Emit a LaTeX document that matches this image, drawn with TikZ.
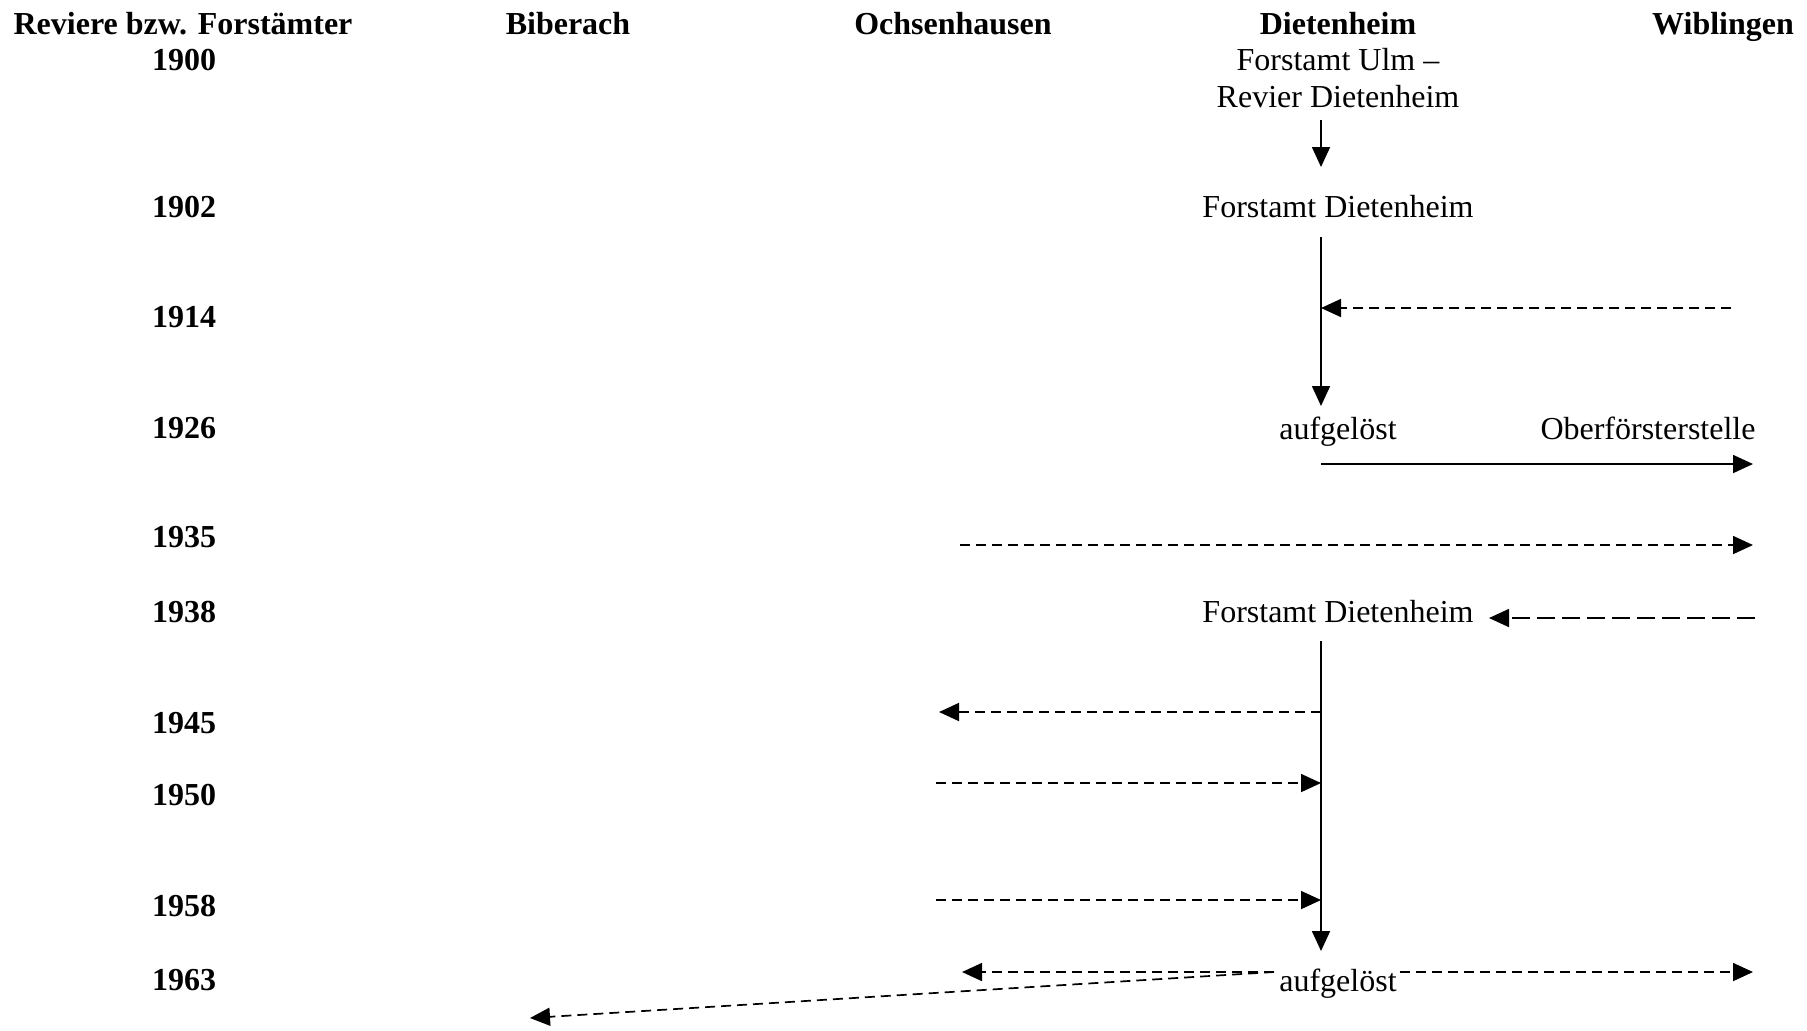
\documentclass[tikz,border=0pt]{standalone}
\usepackage{fontspec}
\setmainfont{Liberation Serif}
\usetikzlibrary{arrows.meta}
\begin{document}
\begin{tikzpicture}[x=0.5pt,y=-0.5pt,
  every node/.style={font=\fontsize{16}{19}\selectfont, inner sep=0pt},
  hdr/.style={font=\fontsize{16}{19}\selectfont\bfseries, anchor=base},
  yr/.style={font=\fontsize{16}{19}\selectfont\bfseries},
  solidarr/.style={line width=0.85pt,-{Triangle[length=10pt,width=9pt]}},
  dasharr/.style={solidarr, dash pattern=on 5pt off 3pt},
  longdash/.style={solidarr, dash pattern=on 9pt off 3.5pt}]
\useasboundingbox (0,0) rectangle (1807,1030);
% headers
\node[hdr] (h0) at (183,34) {Reviere bzw. Forstämter};
\node[hdr] (h1) at (568,34) {Biberach};
\node[hdr] (h2) at (953,34) {Ochsenhausen};
\node[hdr] (h3) at (1338,34) {Dietenheim};
\node[hdr] (h4) at (1723,34) {Wiblingen};
% years
\node[yr] (y1900) at (184,60) {1900};
\node[yr] (y1902) at (184,207) {1902};
\node[yr] (y1914) at (184,317) {1914};
\node[yr] (y1926) at (184,428) {1926};
\node[yr] (y1935) at (184,537) {1935};
\node[yr] (y1938) at (184,612) {1938};
\node[yr] (y1945) at (184,723) {1945};
\node[yr] (y1950) at (184,795) {1950};
\node[yr] (y1958) at (184,906) {1958};
\node[yr] (y1963) at (184,980) {1963};
% labels
\node (ulm) at (1338,60) {Forstamt Ulm –};
\node (rev) at (1338,97) {Revier Dietenheim};
\node (fd1) at (1338,207) {Forstamt Dietenheim};
\node (auf1) at (1338,432) {aufgelöst};
\node (obf) at (1648,428) {Oberförsterstelle};
\node (fd2) at (1338,612) {Forstamt Dietenheim};
\node (auf2) at (1338,984) {aufgelöst};
% coordinates
\coordinate (a1s) at (1321,120);
\coordinate (a1e) at (1321,167);
\coordinate (s1s) at (1321,237);
\coordinate (s1e) at (1321,406);
\coordinate (w1914) at (1731,308);
\coordinate (d1914) at (1321,308);
\coordinate (d1926) at (1321,464);
\coordinate (w1926) at (1753,464);
\coordinate (o1935) at (960,545);
\coordinate (w1935) at (1753,545);
\coordinate (w1938) at (1755,618);
\coordinate (d1938) at (1489,618);
\coordinate (s2s) at (1321,641);
\coordinate (s2e) at (1321,951);
\coordinate (d1945) at (1321,712);
\coordinate (o1945) at (939,712);
\coordinate (o1950) at (936,783);
\coordinate (d1950) at (1321,783);
\coordinate (o1958) at (936,900);
\coordinate (d1958) at (1321,900);
\coordinate (d1963) at (1274,972);
\coordinate (o1963) at (962,972);
\coordinate (d1963r) at (1400,972);
\coordinate (w1963) at (1753,972);
\coordinate (b1963) at (530,1018);
% connectors
\draw[solidarr] (a1s) -- (a1e);
\draw[solidarr] (s1s) -- (s1e);
\draw[dasharr] (w1914) -- (d1914);
\draw[solidarr] (d1926) -- (w1926);
\draw[dasharr] (o1935) -- (w1935);
\draw[longdash] (w1938) -- (d1938);
\draw[solidarr] (s2s) -- (s2e);
\draw[dasharr] (d1945) -- (o1945);
\draw[dasharr] (o1950) -- (d1950);
\draw[dasharr] (o1958) -- (d1958);
\draw[dasharr] (d1963) -- (o1963);
\draw[dasharr] (d1963r) -- (w1963);
\draw[dasharr] (d1963) -- (b1963);
\end{tikzpicture}
\end{document}
